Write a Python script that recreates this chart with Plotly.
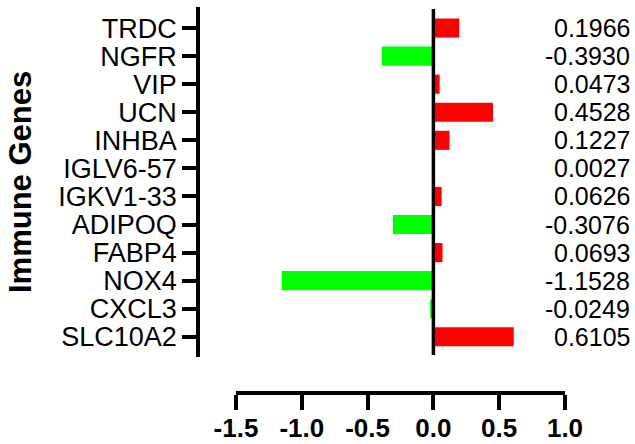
import plotly.graph_objects as go

genes = ["TRDC", "NGFR", "VIP", "UCN", "INHBA", "IGLV6-57", "IGKV1-33",
         "ADIPOQ", "FABP4", "NOX4", "CXCL3", "SLC10A2"]
values = [0.1966, -0.3930, 0.0473, 0.4528, 0.1227, 0.0027, 0.0626,
          -0.3076, 0.0693, -1.1528, -0.0249, 0.6105]
x_tick_vals = [-1.5, -1.0, -0.5, 0.0, 0.5, 1.0]
x_tick_text = ["-1.5", "-1.0", "-0.5", "0.0", "0.5", "1.0"]
y_title = "Immune Genes"

FONT = "Arial, Liberation Sans, Helvetica, sans-serif"
W, H = 635, 444
ml, mr, mt, mb = 198, 3, 7, 51
pw = W - ml - mr
ph = H - mt - mb

colors = ["#FF0000" if v >= 0 else "#00FF00" for v in values]

fig = go.Figure(go.Bar(
    x=values, y=genes, orientation="h",
    marker=dict(color=colors, line=dict(width=0)),
    width=0.68,
))

fig.add_shape(type="line", xref="x", x0=0, x1=0, yref="y domain", y0=0.006, y1=0.994,
              line=dict(color="black", width=3.5), layer="above")

for g, v in zip(genes, values):
    fig.add_annotation(x=1, xref="paper", xanchor="right", y=g, yref="y",
                       text=f"{v:.4f}", showarrow=False,
                       font=dict(family=FONT, size=25, color="black"))

fig.add_annotation(x=(21 - ml) / pw, xref="paper", y=(393 - 182) / ph, yref="paper",
                   text=f"<b>{y_title}</b>", textangle=-90, showarrow=False,
                   xanchor="center", yanchor="middle",
                   font=dict(family=FONT, size=31, color="black"))

fig.update_layout(
    width=W, height=H,
    margin=dict(l=ml, r=mr, t=mt, b=mb, pad=0, autoexpand=False),
    paper_bgcolor="white", plot_bgcolor="white",
    showlegend=False,
    bargap=0.32,
    xaxis=dict(
        domain=[(236 - ml) / pw, (565 - ml) / pw],
        anchor="free", position=0,
        range=[-1.5, 1.0],
        tickmode="array", tickvals=x_tick_vals, ticktext=x_tick_text,
        showgrid=False, zeroline=False, automargin=False,
        showline=True, linecolor="black", linewidth=3.5,
        ticks="outside", ticklen=15, tickwidth=3.5, tickcolor="black",
        ticklabelstandoff=-4,
        tickfont=dict(family=FONT, size=26, color="black", weight="bold"),
    ),
    yaxis=dict(
        domain=[(393 - 357) / ph, 1],
        anchor="free", position=0,
        categoryorder="array", categoryarray=genes,
        tickmode="array", tickvals=genes, ticktext=genes,
        range=[11.72, -0.75],
        showgrid=False, zeroline=False, automargin=False,
        showline=True, linecolor="black", linewidth=3.5,
        ticks="outside", ticklen=14, tickwidth=3.5, tickcolor="black",
        tickfont=dict(family=FONT, size=27, color="black"),
    ),
)

fig.write_html("out.html")
